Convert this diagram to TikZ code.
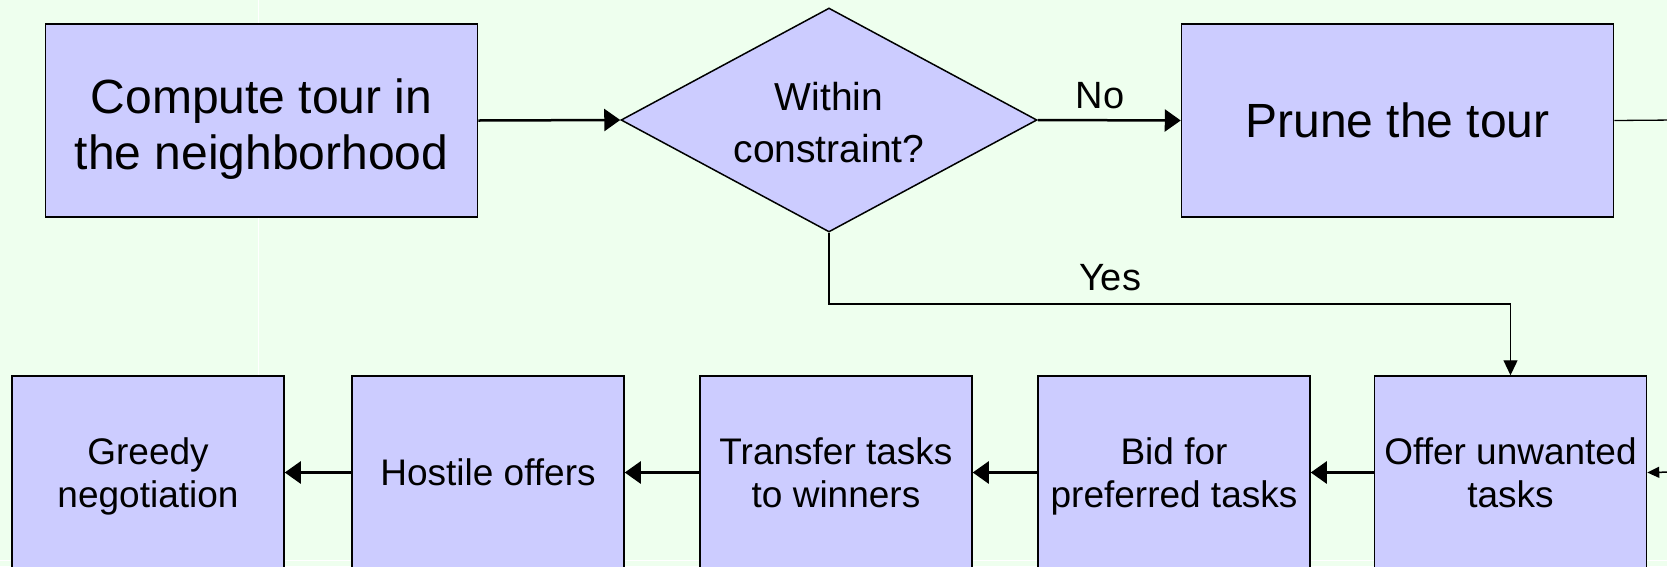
\documentclass[tikz,border=0pt]{standalone}
\usepackage{fontspec}
\setmainfont{Liberation Sans}
\usetikzlibrary{shapes.geometric,arrows.meta}
\definecolor{bgc}{HTML}{EEFFEE}
\definecolor{boxc}{HTML}{CCCCFF}
\newcommand{\upstrut}[1]{\rule{0pt}{#1}}
\newcommand{\downstrut}[1]{\rule[-#1]{0pt}{#1}}
\tikzset{
  procbox/.style={draw=black, line width=1.5pt, fill=boxc, rectangle, inner sep=0pt, align=center},
  topbox/.style={procbox, minimum width=432pt, minimum height=193pt, font=\fontsize{48}{56}\selectfont},
  lowbox/.style={procbox, minimum width=272pt, minimum height=193pt, font=\fontsize{37}{42.5}\selectfont},
  decbox/.style={draw=black, line width=1.5pt, fill=boxc, diamond, inner sep=0pt, aspect=1.86, minimum width=416pt, minimum height=224pt, align=center, font=\fontsize{39}{52}\selectfont},
  thickarrow/.style={line width=2.5pt, -{Triangle[length=16pt,width=22pt]}},
  thinarrow/.style={line width=1.3pt, -{Triangle[length=15pt,width=14pt]}},
  edgelabel/.style={font=\fontsize{38}{44}\selectfont, inner sep=0pt}
}
\begin{document}
\begin{tikzpicture}[x=1pt,y=-1pt]
\fill[bgc] (0,0) rectangle (1667,566);
\useasboundingbox (0,0) rectangle (1667,566);
\draw[white, line width=0.8pt] (258,0) -- (258,566);
\draw[white, line width=0.8pt] (0,560) -- (1667,560);

\node[topbox] (compute) at (261.5,120.5) {\upstrut{53pt}Compute tour in\\the neighborhood\downstrut{12pt}};
\node[decbox] (within) at (829,120) {\upstrut{44pt}Within\\constraint?\downstrut{12pt}};
\node[topbox] (prune) at (1397.5,120.5) {Prune the tour};

\node[lowbox] (greedy) at (148,472.5) {\upstrut{39pt}Greedy\\negotiation\downstrut{12pt}};
\node[lowbox] (hostile) at (488,472.5) {Hostile offers};
\node[lowbox] (transfer) at (836,472.5) {\upstrut{39pt}Transfer tasks\\to winners\downstrut{12pt}};
\node[lowbox] (bid) at (1174,472.5) {\upstrut{39pt}Bid for\\preferred tasks\downstrut{12pt}};
\node[lowbox] (offer) at (1510.5,472.5) {\upstrut{39pt}Offer unwanted\\tasks\downstrut{12pt}};

\coordinate (outtop) at (1675,120);
\coordinate (outlow) at (1675,472);
\coordinate (yescorner1) at (829,304);
\coordinate (yescorner2) at (1510.5,304);

\draw[thickarrow] (compute.east) -- (within.west);
\draw[thickarrow] (within.east) -- (prune.west);
\draw[line width=1.3pt] (prune.east) -- (outtop);
\draw[line width=1.5pt, -{Triangle[length=12pt,width=11pt]}] (outlow) -- (offer.east);
\draw[thinarrow] (within.south) -- (yescorner1) -- (yescorner2) -- (offer.north);

\draw[thickarrow] (offer.west) -- (bid.east);
\draw[thickarrow] (bid.west) -- (transfer.east);
\draw[thickarrow] (transfer.west) -- (hostile.east);
\draw[thickarrow] (hostile.west) -- (greedy.east);

\node[edgelabel, anchor=base] (nolabel) at (1100,108) {No};
\node[edgelabel, anchor=base] (yeslabel) at (1110,290) {Yes};
\end{tikzpicture}
\end{document}
